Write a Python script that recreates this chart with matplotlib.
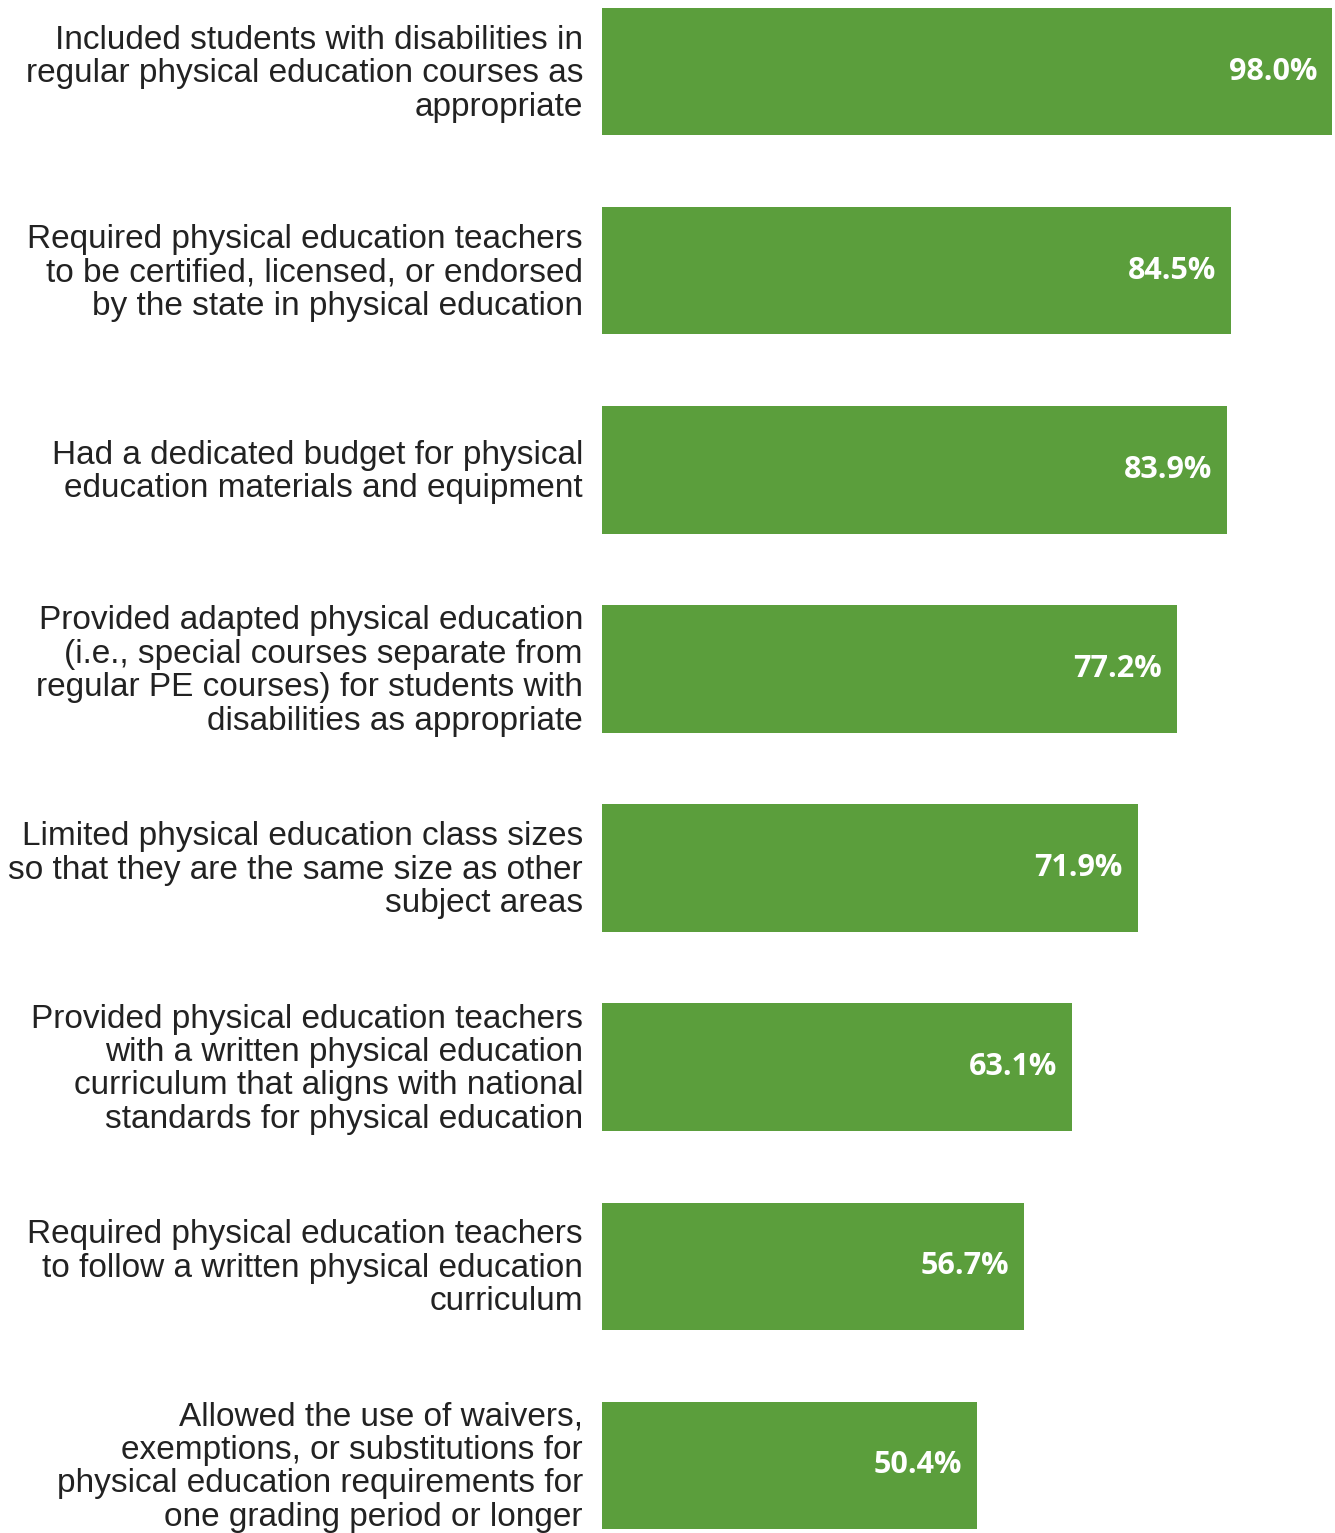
import matplotlib.pyplot as plt

labels = [
    "Included students with disabilities in\nregular physical education courses as\nappropriate",
    "Required physical education teachers\nto be certified, licensed, or endorsed\nby the state in physical education",
    "Had a dedicated budget for physical\neducation materials and equipment",
    "Provided adapted physical education\n(i.e., special courses separate from\nregular PE courses) for students with\ndisabilities as appropriate",
    "Limited physical education class sizes\nso that they are the same size as other\nsubject areas",
    "Provided physical education teachers\nwith a written physical education\ncurriculum that aligns with national\nstandards for physical education",
    "Required physical education teachers\nto follow a written physical education\ncurriculum",
    "Allowed the use of waivers,\nexemptions, or substitutions for\nphysical education requirements for\none grading period or longer",
]
values = [98.0, 84.5, 83.9, 77.2, 71.9, 63.1, 56.7, 50.4]

W, H = 1335, 1533
fig = plt.figure(figsize=(W / 100, H / 100), dpi=100)
ax = fig.add_axes([602 / W, 1 - 1529 / H, 730 / W, 1521 / H])

bar_color = "#5b9e3c"
ypos = list(range(len(values)))
ax.barh(ypos, values, height=0.64, color=bar_color, align="center")
ax.set_xlim(0, 98)
ax.set_ylim(len(values) - 1 + 0.32, -0.32)
ax.axis("off")

for y, lab, v in zip(ypos, labels, values):
    ax.text(-19 / 730 * 98, y + 0.01, lab, ha="right", va="center",
            fontsize=24, family="Liberation Sans", color="#222222",
            linespacing=1.1)
    ax.text(v - 15 / 730 * 98, y, f"{v:.1f}%", ha="right", va="center",
            fontsize=22, family="Open Sans", fontweight="bold", color="white")

fig.savefig("out.png", dpi=100, facecolor="white")
